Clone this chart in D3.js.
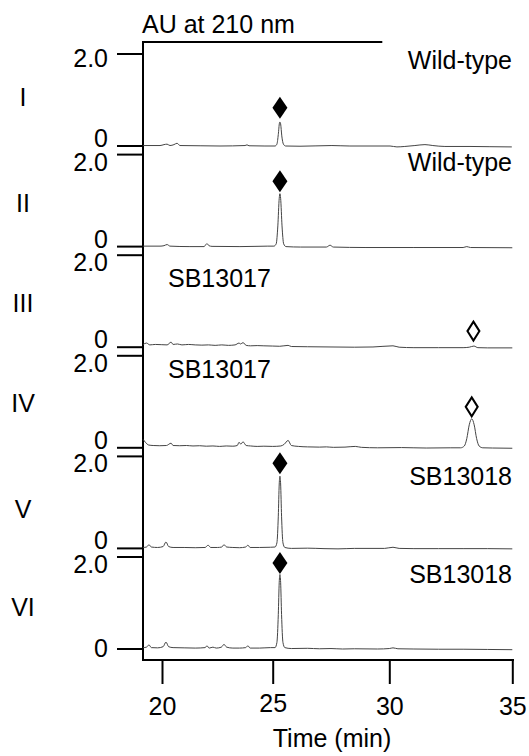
<!DOCTYPE html>
<html>
<head>
<meta charset="utf-8">
<script src="https://cdn.jsdelivr.net/npm/d3@7"></script>
<style>
  body { margin: 0; background: #fff; }
  svg text { font-family: "Liberation Sans", Arial, sans-serif; font-size: 25px; fill: #000; }
</style>
</head>
<body>
<div class="chart"></div>
<script>
// Panels and sample names
const panelNames = ['I', 'II', 'III', 'IV', 'V', 'VI']
const sampleNames = ['Wild-type', 'Wild-type', 'SB13017', 'SB13017', 'SB13018', 'SB13018']
const xTicks = [20, 25, 30, 35]
const yTickValues = [0, 2]
const yTickLabels = ['0', '2.0']

// Chromatograms, [time (min), AU]
const traceI = [[19.15, 0.01], [19.91, 0.01], [20.09, 0.03], [20.23, 0.04], [20.36, 0.01], [20.54, 0.03], [20.68, 0.06],
  [20.81, 0.01], [21.72, 0.005], [22.62, 0], [23.75, 0.01], [23.84, 0.025], [23.93, 0.005], [24.65, 0],
  [25.1, 0], [25.18, 0.04], [25.24, 0.25], [25.29, 0.5], [25.31, 0.52], [25.34, 0.48], [25.39, 0.22], [25.46, 0.04], [25.55, 0],
  [26.17, -0.005], [27.54, 0.01], [28.31, 0], [30.03, 0], [30.31, -0.02], [30.63, -0.01], [31.04, 0.01], [31.45, 0.03],
  [31.77, 0.01], [32.26, -0.01], [33.28, -0.01], [34.09, -0.015], [34.98, -0.02]]

const traceII = [[19.15, 0.01], [19.91, 0.01], [20.09, 0.02], [20.23, 0.045], [20.36, 0.01], [21.26, 0], [21.9, 0],
  [21.99, 0.05], [22.03, 0.065], [22.12, 0.02], [22.26, 0.005], [23.52, 0], [24.2, 0.005], [24.78, 0.01],
  [25.05, 0.01], [25.15, 0.06], [25.22, 0.45], [25.28, 1.05], [25.31, 1.15], [25.34, 1.05], [25.4, 0.45], [25.47, 0.06], [25.57, 0],
  [26.2, -0.01], [27.3, -0.01], [27.46, 0.03], [27.6, -0.01], [29, -0.02], [31, -0.02], [33, -0.02], [33.15, 0],
  [33.3, -0.02], [35, -0.025]]

const traceIII = [[19.15, 0.06], [19.3, 0.09], [19.45, 0.05], [19.7, 0.06], [20.23, 0.05], [20.41, 0.11], [20.5, 0.06],
  [20.7, 0.07], [20.9, 0.05], [21.2, 0.06], [21.5, 0.05], [21.8, 0.045], [22.1, 0.05], [22.4, 0.04], [22.7, 0.05],
  [23, 0.04], [23.3, 0.05], [23.48, 0.09], [23.55, 0.07], [23.66, 0.1], [23.8, 0.04], [24, 0.03], [24.3, 0.035],
  [24.6, 0.03], [25, 0.025], [25.3, 0.02], [25.66, 0.04], [25.8, 0.015], [26.5, 0.01], [27.5, 0.005], [28.5, 0],
  [29.3, 0.005], [30.15, 0.03], [30.4, 0], [31, -0.01], [32, -0.01], [33, -0.01], [33.25, 0], [33.44, 0.025],
  [33.6, -0.01], [34, -0.015], [35, -0.015]]

const traceIV = [[19.15, 0.18], [19.25, 0.12], [19.4, 0.06], [19.6, 0.05], [19.9, 0.045], [20.2, 0.05], [20.41, 0.1],
  [20.5, 0.05], [20.8, 0.045], [21.1, 0.05], [21.4, 0.04], [21.7, 0.045], [22, 0.035], [22.3, 0.04], [22.6, 0.03],
  [22.9, 0.04], [23.2, 0.035], [23.4, 0.05], [23.48, 0.12], [23.56, 0.08], [23.66, 0.13], [23.8, 0.05], [24, 0.04],
  [24.3, 0.03], [24.6, 0.035], [25, 0.03], [25.35, 0.04], [25.5, 0.08], [25.66, 0.16], [25.8, 0.05], [26.1, 0.03],
  [26.5, 0.02], [27, 0.015], [27.3, 0.02], [27.6, 0.01], [28.1, 0.015], [28.54, 0.03], [28.8, 0.01], [29.5, 0],
  [30.5, 0.005], [31.5, -0.005], [32.5, 0], [32.9, 0], [33.05, 0.04], [33.15, 0.2], [33.25, 0.5], [33.35, 0.63],
  [33.45, 0.5], [33.55, 0.2], [33.65, 0.04], [33.8, 0], [34.2, -0.005], [35, -0.01]]

const traceV = [[19.15, 0.02], [19.3, 0.03], [19.41, 0.08], [19.52, 0.03], [19.8, 0.02], [20.05, 0.04], [20.18, 0.14],
  [20.3, 0.04], [20.5, 0.02], [21, 0.02], [21.5, 0.015], [21.95, 0.02], [22.08, 0.07], [22.2, 0.02], [22.5, 0.02],
  [22.7, 0.03], [22.8, 0.08], [22.92, 0.03], [23.2, 0.02], [23.5, 0.015], [23.78, 0.03], [23.88, 0.07], [23.98, 0.02],
  [24.4, 0.02], [24.9, 0.025], [25.1, 0.03], [25.18, 0.12], [25.24, 0.7], [25.28, 1.4], [25.31, 1.57], [25.34, 1.4],
  [25.38, 0.7], [25.44, 0.12], [25.52, 0.02], [25.8, 0], [26.5, 0.005], [27.2, -0.005], [27.8, -0.01], [28.5, 0],
  [29.8, 0], [30.15, 0.025], [30.4, 0], [31, -0.005], [32, -0.005], [33, -0.005], [34, -0.005], [35, -0.01]]

const traceVI = [[19.15, 0.03], [19.3, 0.04], [19.41, 0.09], [19.52, 0.03], [19.8, 0.025], [20.05, 0.05], [20.18, 0.15],
  [20.3, 0.05], [20.5, 0.03], [21, 0.025], [21.5, 0.02], [21.95, 0.03], [22.03, 0.07], [22.13, 0.02], [22.3, 0.04],
  [22.45, 0.02], [22.68, 0.04], [22.8, 0.1], [22.92, 0.04], [23.2, 0.02], [23.5, 0.02], [23.78, 0.03], [23.88, 0.07],
  [23.98, 0.02], [24.4, 0.02], [24.9, 0.03], [25.1, 0.03], [25.18, 0.14], [25.24, 0.75], [25.28, 1.45], [25.31, 1.62],
  [25.34, 1.45], [25.38, 0.75], [25.44, 0.14], [25.52, 0.03], [25.8, 0.01], [26.5, 0.015], [27, 0.005], [27.5, 0.01],
  [28, 0], [28.5, 0.005], [29.5, 0], [30, 0.01], [30.15, 0.025], [30.35, 0.005], [31, 0], [32, -0.005], [33, -0.005],
  [34, -0.01], [35, -0.015]]

const traces = [traceI, traceII, traceIII, traceIV, traceV, traceVI]

// Peak markers
const markerTimes = [25.31, 25.31, 33.42, 33.35, 25.31, 25.31]
const markerAU = [0.83, 1.42, 0.35, 0.89, 1.85, 1.87]
const markerFilled = [true, true, false, false, true, true]

// Layout
const width = 529
const height = 756
const axisLeft = 143
const axisRight = 514
const axisTop = 42
const axisBottom = 660
const firstBase = 146
const panelStep = 100.6
const panelPx = 92
const numeralY = [106, 212, 312, 412, 518, 616]
const sampleLayout = [
  { x: 512, y: 69, anchor: 'end' },
  { x: 512, y: 171, anchor: 'end' },
  { x: 168, y: 287, anchor: 'start' },
  { x: 168, y: 378, anchor: 'start' },
  { x: 512, y: 485, anchor: 'end' },
  { x: 512, y: 583, anchor: 'end' }
]

const svg = d3.select('.chart')
  .append('svg')
  .attr('width', width)
  .attr('height', height)

const xScale = d3.scaleLinear()
  .domain([20, 25, 30, 35])
  .range([162, 272.7, 389.3, 512.3])

const yScales = panelNames.map((p, i) => {
  const base = firstBase + i * panelStep
  return d3.scaleLinear().domain([0, 2]).range([base, base - panelPx])
})

// Frame
svg.append('line')
  .attr('x1', axisLeft).attr('x2', axisLeft)
  .attr('y1', axisTop).attr('y2', axisBottom + 1)
  .attr('stroke', '#000').attr('stroke-width', 2)
svg.append('line')
  .attr('x1', axisLeft - 1).attr('x2', xScale(29.7))
  .attr('y1', axisTop).attr('y2', axisTop)
  .attr('stroke', '#000').attr('stroke-width', 2)
svg.append('line')
  .attr('x1', axisLeft - 1).attr('x2', axisRight)
  .attr('y1', axisBottom).attr('y2', axisBottom)
  .attr('stroke', '#000').attr('stroke-width', 2)

svg.append('text')
  .attr('x', 142).attr('y', 33)
  .text('AU at 210 nm')

// X axis
const xAxis = d3.axisBottom(xScale)
  .tickValues(xTicks)
  .tickSize(24)
  .tickPadding(13)
  .tickFormat(d3.format('d'))

const xg = svg.append('g')
  .attr('transform', `translate(0, ${axisBottom})`)
  .call(xAxis)
xg.select('.domain').remove()
xg.selectAll('.tick line').attr('stroke', '#000').attr('stroke-width', 2)
xg.selectAll('.tick text')
  .style('font-family', '"Liberation Sans", Arial, sans-serif')
  .style('font-size', '25px')
  .attr('dy', d => d === 25 ? '0.6em' : '0.71em')
xg.attr('font-family', null).attr('font-size', null)

svg.append('text')
  .attr('x', 332).attr('y', 747)
  .attr('text-anchor', 'middle')
  .text('Time (min)')

const line = d3.line().curve(d3.curveMonotoneX)
const diamond = (hw, hh) => `M0,${-hh}L${hw},0L0,${hh}L${-hw},0Z`

panelNames.forEach((name, i) => {
  const y = yScales[i]
  const g = svg.append('g')

  // y ticks
  yTickValues.forEach((v, k) => {
    g.append('line')
      .attr('x1', 117).attr('x2', axisLeft)
      .attr('y1', y(v)).attr('y2', y(v))
      .attr('stroke', '#000').attr('stroke-width', 2)
    const last = i === panelNames.length - 1
    let dy = v === 0 ? 1 : 16
    if (v === 0 && last) dy = 8
    if (v === 2 && i === 0) dy = 13
    g.append('text')
      .attr('x', 108).attr('y', y(v) + dy)
      .attr('text-anchor', 'end')
      .text(yTickLabels[k])
  })

  // panel numeral
  g.append('text')
    .attr('x', 23).attr('y', numeralY[i])
    .attr('text-anchor', 'middle')
    .text(name)

  // sample name
  g.append('text')
    .attr('x', sampleLayout[i].x).attr('y', sampleLayout[i].y)
    .attr('text-anchor', sampleLayout[i].anchor)
    .text(sampleNames[i])

  // trace
  g.append('path')
    .datum(traces[i])
    .attr('d', line.x(d => xScale(d[0])).y(d => y(d[1])))
    .attr('fill', 'none')
    .attr('stroke', '#444')
    .attr('stroke-width', 1)

  // marker
  const filled = markerFilled[i]
  g.append('path')
    .attr('transform', `translate(${xScale(markerTimes[i])}, ${y(markerAU[i])})`)
    .attr('d', filled ? diamond(7.5, 11) : diamond(6, 9.5))
    .attr('fill', filled ? '#000' : '#fff')
    .attr('stroke', '#000')
    .attr('stroke-width', filled ? 0 : 2)
})
</script>
</body>
</html>
